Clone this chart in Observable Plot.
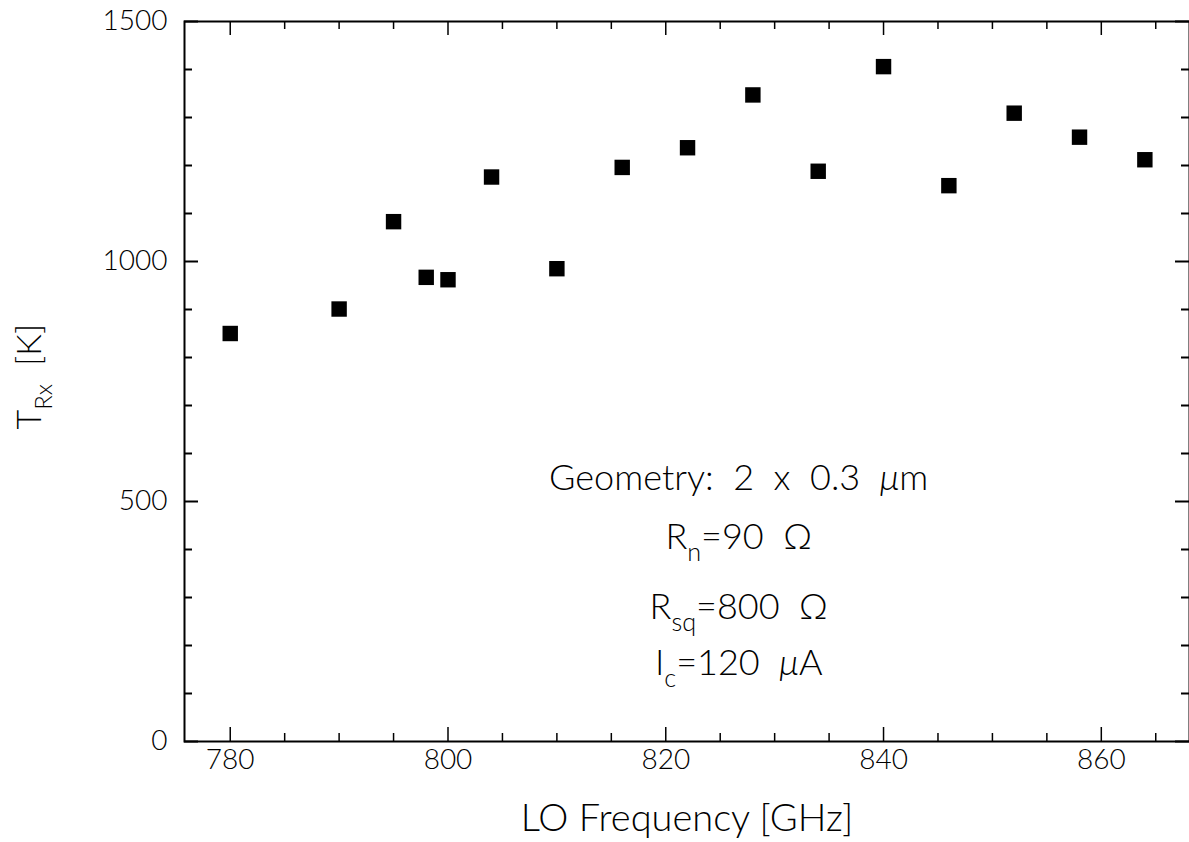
<!DOCTYPE html>
<html><head><meta charset="utf-8">
<script src="https://cdn.jsdelivr.net/npm/d3@7"></script>
<script src="https://cdn.jsdelivr.net/npm/@observablehq/plot@0.6"></script>
<style>
html,body{margin:0;padding:0;background:#fff;overflow:hidden}
</style>
</head><body><div id="chart"></div>
<script>
// ---- data ----
const frequency = [780, 790, 795, 798, 800, 804, 810, 816, 822, 828, 834, 840, 846, 852, 858, 864];
const trx       = [850, 901, 1083, 967, 962, 1176, 985, 1196, 1237, 1347, 1188, 1406, 1158, 1309, 1259, 1212];
const xMajorTicks = [780, 800, 820, 840, 860];
const xMinorTicks = [785, 790, 795, 805, 810, 815, 825, 830, 835, 845, 850, 855, 865];
const yMajorTicks = [0, 500, 1000, 1500];
const yMinorTicks = [100, 200, 300, 400, 600, 700, 800, 900, 1100, 1200, 1300, 1400];
const annotationLines = ["Geometry:  2  x  0.3  μm", "R_{n}=90  Ω", "R_{sq}=800  Ω", "I_{c}=120  μA"];
const xLabel = "LO Frequency [GHz]";
const yLabel = "T_{Rx}  [K]";

const points = frequency.map((f, i) => ({f, t: trx[i]}));

const W = 1189, H = 842;
const mL = 184, mR = 0, mT = 21, mB = 101;
const innerW = W - mL - mR, innerH = H - mT - mB;
const majorLen = 14, minorLen = 8;

const annX = 826.7;
const annY = [548, 425, 279, 162];

const plot = Plot.plot({
  width: W, height: H,
  marginLeft: mL, marginRight: mR, marginTop: mT, marginBottom: mB,
  style: {fontFamily: "Lato, 'Open Sans', sans-serif", fontWeight: 300, color: "black", background: "white", whiteSpace: "pre"},
  x: {domain: [775.8, 868.1]},
  y: {domain: [0, 1500]},
  marks: [
    Plot.frame({stroke: "black", strokeWidth: 2}),
    // inward ticks: bottom / top
    Plot.ruleX(xMajorTicks, {x: d => d, insetTop: innerH - majorLen, stroke: "black", strokeWidth: 1.5}),
    Plot.ruleX(xMinorTicks, {x: d => d, insetTop: innerH - minorLen, stroke: "black", strokeWidth: 1.5}),
    Plot.ruleX(xMajorTicks, {x: d => d, insetBottom: innerH - majorLen, stroke: "black", strokeWidth: 1.5}),
    Plot.ruleX(xMinorTicks, {x: d => d, insetBottom: innerH - minorLen, stroke: "black", strokeWidth: 1.5}),
    // inward ticks: left / right
    Plot.ruleY(yMajorTicks, {y: d => d, insetRight: innerW - majorLen, stroke: "black", strokeWidth: 2}),
    Plot.ruleY(yMinorTicks, {y: d => d, insetRight: innerW - minorLen, stroke: "black", strokeWidth: 2}),
    Plot.ruleY(yMajorTicks, {y: d => d, insetLeft: innerW - majorLen, stroke: "black", strokeWidth: 2}),
    Plot.ruleY(yMinorTicks, {y: d => d, insetLeft: innerW - minorLen, stroke: "black", strokeWidth: 2}),
    Plot.axisX(xMajorTicks, {tickSize: 0, tickPadding: 8, fontSize: 28, label: null, tickFormat: d3.format("d")}),
    Plot.axisY(yMajorTicks, {tickSize: 0, tickPadding: 17, fontSize: 28, label: null, tickFormat: d3.format("d")}),
    Plot.dot(points, {x: "f", y: "t", symbol: "square", fill: "black", stroke: "none", r: 8.7}),
    ...annotationLines.map((s, i) => Plot.text([s], {x: annX, y: annY[i], text: d => d, fontSize: 36, fill: "black", textAnchor: "middle", lineAnchor: "middle"})),
    Plot.text([xLabel], {frameAnchor: "bottom", dy: 77, text: d => d, fontSize: 38, fill: "black", lineAnchor: "middle"}),
    Plot.text([yLabel], {frameAnchor: "left", dx: -154, dy: 48, text: d => d, rotate: -90, fontSize: 34, fill: "black", lineAnchor: "middle"})
  ]
});

document.getElementById("chart").appendChild(plot);

// rich text: subscripts _{..} and italic μ
const NS = "http://www.w3.org/2000/svg";
plot.querySelectorAll("text").forEach(t => {
  const leaves = t.querySelectorAll("tspan").length ? Array.from(t.querySelectorAll("tspan")) : [t];
  leaves.forEach(el => {
    const s = el.textContent;
    if (!/_\{|μ/.test(s)) return;
    const fs = parseFloat(getComputedStyle(el).fontSize) || 30;
    const shift = 0.32 * fs;
    el.textContent = "";
    const parts = s.split(/(_\{[^}]*\}|μ)/).filter(p => p.length);
    let pendingUp = false;
    parts.forEach(p => {
      const ts = document.createElementNS(NS, "tspan");
      if (p.startsWith("_{")) {
        ts.textContent = p.slice(2, -1);
        ts.setAttribute("font-size", (0.7 * fs) + "px");
        ts.setAttribute("dy", shift);
        pendingUp = true;
      } else {
        ts.textContent = p;
        if (p === "μ") ts.setAttribute("font-style", "italic");
        if (pendingUp) { ts.setAttribute("dy", -shift); pendingUp = false; }
      }
      el.appendChild(ts);
    });
  });
});
</script>
</body></html>
